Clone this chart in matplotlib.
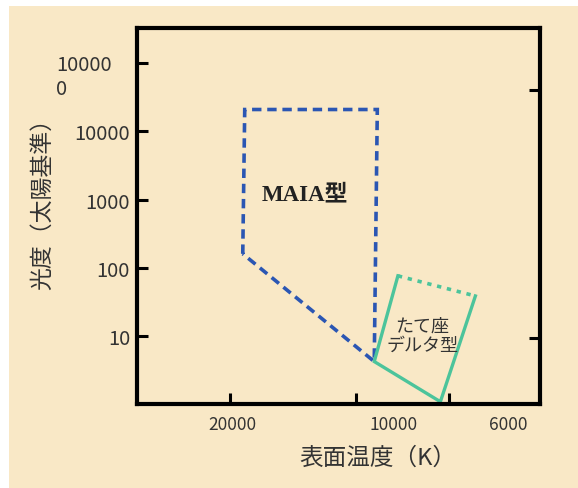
import matplotlib
matplotlib.use("Agg")
import matplotlib.pyplot as plt
from matplotlib.transforms import ScaledTranslation
from matplotlib.patches import Rectangle

# ---- data ----
maia_temp = [18600, 18400, 8900, 9050, 18600]
maia_lum = [160, 21000, 21000, 4.2, 160]

dsct_solid_temp = [7950, 9050, 6300, 5200]
dsct_solid_lum = [76, 4.2, 1.08, 38.5]
dsct_dot_temp = [7950, 5200]
dsct_dot_lum = [76, 38.5]

x_ticks = [20000, 10000, 6000]
x_ticklabels = ["20000", "10000", "6000"]
y_ticks = [10, 100, 1000, 10000, 100000]
y_ticklabels = ["10", "100", "1000", "10000", "10000\n0"]
right_ticks = [9.3, 40000]

xlabel = "表面温度（K）"
ylabel = "光度（太陽基準）"
maia_label = "MAIA型"
dsct_label = "たて座\nデルタ型"

# ---- style ----
BG = "#f9e8c6"
BLUE = "#2b56b3"
GREEN = "#4cc49b"
CJK = ["Noto Sans CJK JP", "DejaVu Sans"]

fig = plt.figure(figsize=(5.78, 4.89), dpi=100)
fig.patch.set_facecolor(BG)
fig.add_artist(Rectangle((0, 0), 9 / 578, 1, transform=fig.transFigure,
                         facecolor="white", edgecolor="none", zorder=-10))
fig.add_artist(Rectangle((0, 1 - 7 / 489), 1, 7 / 489, transform=fig.transFigure,
                         facecolor="white", edgecolor="none", zorder=-10))

ax = fig.add_axes([137 / 578, 1 - 405 / 489, (540 - 137) / 578, (405 - 29) / 489])
ax.set_facecolor(BG)
ax.set_xscale("log")
ax.set_yscale("log")
ax.set_xlim(33200, 3650)
ax.set_ylim(1.0, 3.3e5)

ax.plot(maia_temp, maia_lum, color=BLUE, lw=2.6, linestyle=(0, (2.6, 1.6)),
        solid_joinstyle="miter", dash_joinstyle="miter")
ax.plot(dsct_solid_temp, dsct_solid_lum, color=GREEN, lw=2.4, solid_joinstyle="miter")
ax.plot(dsct_dot_temp, dsct_dot_lum, color=GREEN, lw=2.6, linestyle=(0, (1.2, 1.6)))

ax.text(13230, 1200, maia_label, ha="center", va="center",
        fontsize=16.5, fontweight="bold", family=["Liberation Serif", "Noto Sans CJK JP"],
        color="#222222")
ax.text(6960, 10.3, dsct_label, ha="center", va="center", fontsize=13,
        family=CJK, color="#333333", linespacing=1.1)

for s in ax.spines.values():
    s.set_linewidth(3.0)
    s.set_color("black")

ax.xaxis.set_minor_locator(matplotlib.ticker.NullLocator())
ax.yaxis.set_minor_locator(matplotlib.ticker.NullLocator())
ax.set_xticks(x_ticks)
ax.set_xticklabels(x_ticklabels, family=CJK, fontsize=12.5, color="#333333")
ax.set_yticks(y_ticks)
ax.set_yticklabels(y_ticklabels, family=CJK, fontsize=14.5, color="#333333")
ax.tick_params(axis="both", which="major", direction="in", length=8, width=2.2,
               color="black")
ax.tick_params(axis="x", pad=8)
ax.tick_params(axis="y", pad=5)

# shift x tick labels as in reference
x_offsets_px = [3, 38, 59]
for lab, dx in zip(ax.get_xticklabels(), x_offsets_px):
    lab.set_transform(lab.get_transform() + ScaledTranslation(dx / 100, 0, fig.dpi_scale_trans))
# wrapped top y label
top = ax.get_yticklabels()[-1]
top.set_multialignment("left")
top.set_transform(top.get_transform() + ScaledTranslation(-18 / 100, -9 / 100, fig.dpi_scale_trans))

ax2 = ax.twinx()
ax2.set_yscale("log")
ax2.set_ylim(ax.get_ylim())
ax2.yaxis.set_minor_locator(matplotlib.ticker.NullLocator())
ax2.set_yticks(right_ticks)
ax2.set_yticklabels([])
ax2.tick_params(axis="y", direction="in", length=8, width=2.2)
for s in ax2.spines.values():
    s.set_visible(False)

ax.set_xlabel(xlabel, family=CJK, fontsize=17, color="#333333", va="center")
ax.xaxis.set_label_coords((378 - 137) / 403, (405 - 458) / 376)
ax.set_ylabel(ylabel, family=CJK, fontsize=16.5, color="#333333", va="center")
ax.yaxis.set_label_coords((43 - 137) / 403, (405 - 199) / 376)

fig.savefig("out.png", dpi=100, facecolor=fig.get_facecolor())
